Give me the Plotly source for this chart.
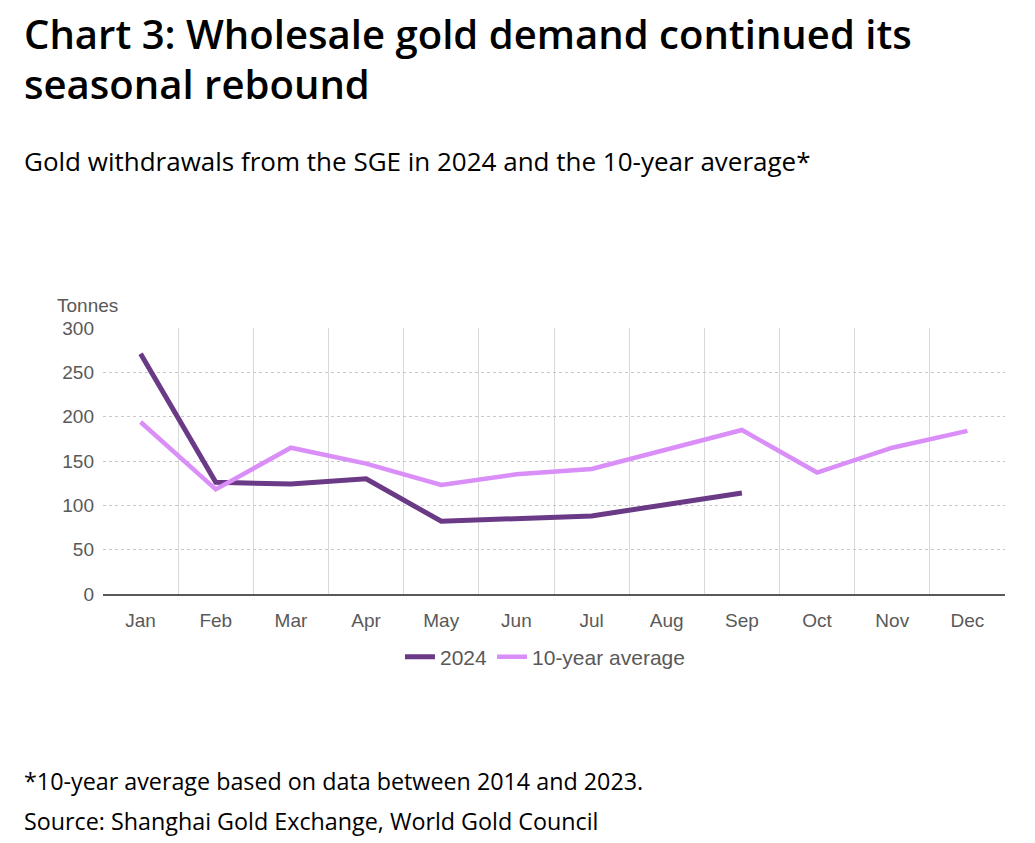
import plotly.graph_objects as go

months = ["Jan", "Feb", "Mar", "Apr", "May", "Jun", "Jul", "Aug", "Sep", "Oct", "Nov", "Dec"]
y2024 = [271, 126, 124, 130, 82, 85, 88, 101, 114]
avg10 = [194, 118, 165, 147, 123, 135, 141, 163, 185, 137, 165, 184]

fig = go.Figure()
fig.add_trace(go.Scatter(x=months[:len(y2024)], y=y2024, mode="lines", name="2024",
                         line=dict(color="#6B3A87", width=5)))
fig.add_trace(go.Scatter(x=months, y=avg10, mode="lines", name="10-year average",
                         line=dict(color="#DA8EF7", width=4.5)))

L, R, T, B = 103, 30, 328, 249
W, H = 1035, 843
pw, ph = W - L - R, H - T - B

def px(x):
    return (x - L) / pw

def py(y):
    return (H - B - y) / ph

tick_font = dict(family="Liberation Sans, Arial, sans-serif", size=19, color="#595959")
legend_font = dict(family="Liberation Sans, Arial, sans-serif", size=21, color="#595959")
text_font = "Open Sans, Noto Sans, sans-serif"

fig.update_layout(
    width=W, height=H,
    margin=dict(l=L, r=R, t=T, b=B),
    paper_bgcolor="white", plot_bgcolor="white",
    showlegend=True,
    legend=dict(orientation="h", x=0.49, xanchor="center", y=py(657), yanchor="middle",
                font=legend_font, itemwidth=30, tracegroupgap=0, bgcolor="rgba(0,0,0,0)"),
    xaxis=dict(type="category", categoryorder="array", categoryarray=months,
               tickson="boundaries", showgrid=True, gridcolor="#D9D9D9", gridwidth=1,
               ticks="", showline=True, linecolor="#595959", linewidth=1.5,
               tickfont=tick_font, range=[-0.5, 11.5], ticklabelstandoff=8),
    yaxis=dict(range=[0, 300], dtick=50, showgrid=True, gridcolor="#C8C8C8",
               griddash="dot", gridwidth=1, zeroline=False, showline=False,
               ticks="", tickfont=tick_font, ticklabelstandoff=8),
    annotations=[
        dict(text="Chart 3: Wholesale gold demand continued its", x=px(22), y=py(33),
             xref="paper", yref="paper", xanchor="left", yanchor="middle", showarrow=False,
             font=dict(family=text_font, size=40.1, color="#000000", weight=600)),
        dict(text="seasonal rebound", x=px(22), y=py(84),
             xref="paper", yref="paper", xanchor="left", yanchor="middle", showarrow=False,
             font=dict(family=text_font, size=40.1, color="#000000", weight=600)),
        dict(text="Gold withdrawals from the SGE in 2024 and the 10-year average*", x=px(22), y=py(161),
             xref="paper", yref="paper", xanchor="left", yanchor="middle", showarrow=False,
             font=dict(family=text_font, size=26, color="#000000")),
        dict(text="Tonnes", x=px(55), y=py(305),
             xref="paper", yref="paper", xanchor="left", yanchor="middle", showarrow=False,
             font=tick_font),
        dict(text="*10-year average based on data between 2014 and 2023.", x=px(22), y=py(781),
             xref="paper", yref="paper", xanchor="left", yanchor="middle", showarrow=False,
             font=dict(family=text_font, size=23.3, color="#000000")),
        dict(text="Source: Shanghai Gold Exchange, World Gold Council", x=px(22), y=py(821),
             xref="paper", yref="paper", xanchor="left", yanchor="middle", showarrow=False,
             font=dict(family=text_font, size=23.3, color="#000000")),
    ],
)

fig.write_html("out.html")
